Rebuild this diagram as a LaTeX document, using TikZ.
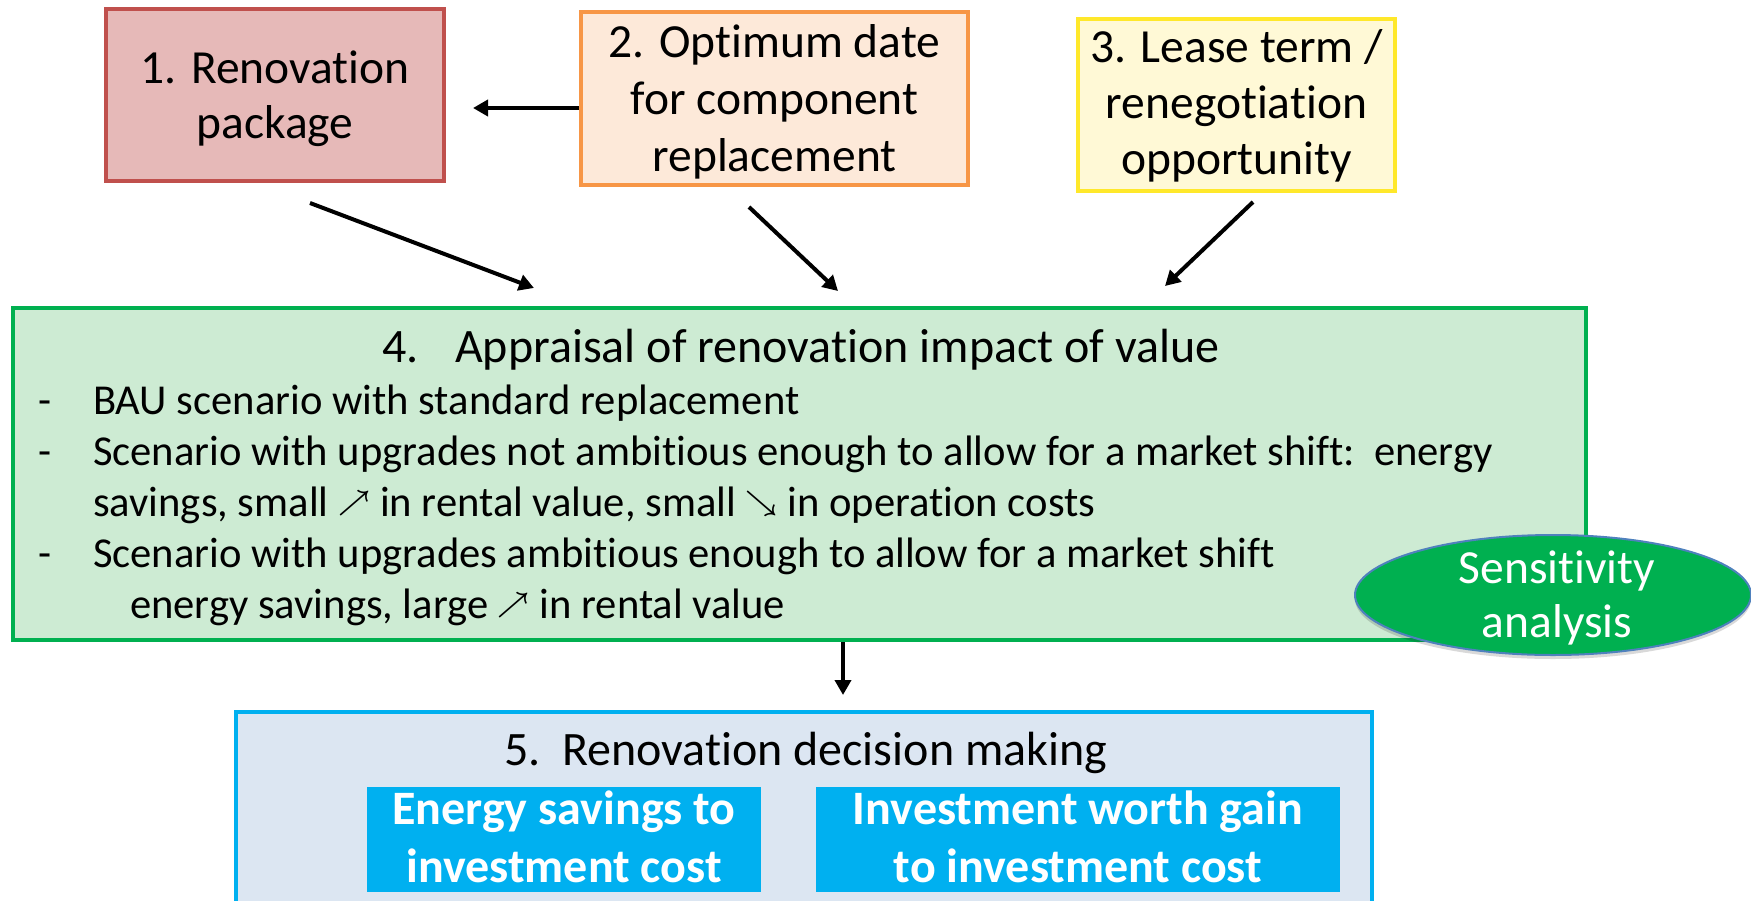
\documentclass[tikz,border=0pt]{standalone}
\usepackage{fontspec}
\usepackage{graphicx}
\setmainfont{Carlito}[Ligatures=NoCommon]
\usetikzlibrary{arrows.meta,shapes.geometric,shadows}

% keep "t" and "i" as separate glyphs (no joined ti form)
\XeTeXinterchartokenstate=1
\newXeTeXintercharclass\tclass
\newXeTeXintercharclass\iclass
\XeTeXcharclass`t=\tclass
\XeTeXcharclass`i=\iclass
\XeTeXinterchartoks\tclass\iclass={\kern0pt}

\definecolor{redline}{HTML}{C0504D}
\definecolor{redfill}{HTML}{E6B9B8}
\definecolor{orgline}{HTML}{F79646}
\definecolor{orgfill}{HTML}{FDE9D9}
\definecolor{yelline}{HTML}{FFE82A}
\definecolor{yelfill}{HTML}{FFF9D6}
\definecolor{grnline}{HTML}{00B050}
\definecolor{grnfill}{HTML}{CDEBD3}
\definecolor{bluline}{HTML}{00B0F0}
\definecolor{blufill}{HTML}{DCE6F2}
\definecolor{ovalline}{HTML}{4F81BD}

% thin open-headed diagonal arrows used inside the list text
\newcommand\uparr{\raisebox{5.5pt}{\scalebox{2.8}{\fontsize{10}{12}\selectfont\boldmath$\nearrow$}}}
\newcommand\downarr{\raisebox{5.5pt}{\scalebox{2.8}{\fontsize{10}{12}\selectfont\boldmath$\searrow$}}}

\tikzset{
  panel/.style={draw, line width=4.5pt, inner sep=0pt},
  conn/.style={line width=4pt, -{Triangle[length=15pt,width=16pt]}},
  bigtxt/.style={anchor=base, inner sep=0pt, font=\fontsize{47.5}{56}\selectfont},
  headtxt/.style={anchor=base west, inner sep=0pt, font=\fontsize{48}{56}\selectfont},
  listtxt/.style={anchor=base west, inner sep=0pt, font=\fontsize{42.6}{51}\selectfont},
  boldtxt/.style={anchor=base, inner sep=0pt, text=white, font=\fontsize{48}{56}\selectfont\bfseries},
}

\begin{document}
\begin{tikzpicture}[x=1pt, y=-1pt]
\useasboundingbox (0,0) rectangle (1751,900);

% top row of input boxes
\node[panel, draw=redline, fill=redfill, minimum width=338pt, minimum height=172pt] (b1) at (275,95) {};
\node[panel, draw=orgline, fill=orgfill, minimum width=387pt, minimum height=173pt] (b2) at (774.5,98.5) {};
\node[panel, draw=yelline, fill=yelfill, minimum width=317pt, minimum height=172pt] (b3) at (1236.5,105) {};

\node[bigtxt] (b1a) at (275,83) {1. Renovation};
\node[bigtxt] (b1b) at (275,138) {package};

\node[bigtxt] (b2a) at (774.5,57) {2. Optimum date};
\node[bigtxt] (b2b) at (774.5,114) {for component};
\node[bigtxt] (b2c) at (774.5,171) {replacement};

\node[bigtxt] (b3a) at (1236.5,62) {3. Lease term /};
\node[bigtxt] (b3b) at (1236.5,118) {renegotiation};
\node[bigtxt] (b3c) at (1236.5,174) {opportunity};

% appraisal box
\node[panel, draw=grnline, fill=grnfill, minimum width=1573pt, minimum height=332pt] (b4) at (799.5,474) {};
\node[headtxt] (b4n) at (382,362) {4.};
\node[headtxt] (b4t) at (455,362) {Appraisal of renovation impact of value};

\node[listtxt] (d1) at (38,414) {-};
\node[listtxt] (l1) at (93,414) {BAU scenario with standard replacement};
\node[listtxt] (d2) at (38,465) {-};
\node[listtxt] (l2) at (93,465) {Scenario with upgrades not ambitious enough to allow for a market shift:\ \ energy};
\node[listtxt] (l3) at (93,516) {savings, small \uparr{} in rental value, small \downarr{} in operation costs};
\node[listtxt] (d4) at (38,567) {-};
\node[listtxt] (l4) at (93,567) {Scenario with upgrades ambitious enough to allow for a market shift};
\node[listtxt] (l5) at (130,618) {energy savings, large \uparr{} in rental value};

% sensitivity oval
\node[ellipse, draw=ovalline, line width=2pt, fill=grnline, minimum width=396pt, minimum height=120pt, inner sep=0pt,
      drop shadow={shadow xshift=0pt, shadow yshift=-4pt, opacity=0.15, fill=black}] (sa) at (1553,595) {};
\node[bigtxt, text=white] (sa1) at (1557,583) {Sensitivity};
\node[bigtxt, text=white] (sa2) at (1557,637) {analysis};

% decision box
\node[panel, draw=bluline, fill=blufill, minimum width=1136pt, minimum height=203pt] (b5) at (804,813.5) {};
\node[headtxt] (b5n) at (504,765) {5.};
\node[headtxt] (b5t) at (562,765) {Renovation decision making};

\node[fill=bluline, minimum width=394pt, minimum height=105pt, inner sep=0pt] (r1) at (564,839.5) {};
\node[fill=bluline, minimum width=524pt, minimum height=105pt, inner sep=0pt] (r2) at (1078,839.5) {};
\node[boldtxt] (r1a) at (564,824) {Energy savings to};
\node[boldtxt] (r1b) at (564,882) {investment cost};
\node[boldtxt] (r2a) at (1078,824) {Investment worth gain};
\node[boldtxt] (r2b) at (1078,882) {to investment cost};

% connector end points
\coordinate (c21s) at (579,108);
\coordinate (c21e) at (473,108);
\coordinate (c14s) at (310,203);
\coordinate (c14e) at (534,288);
\coordinate (c24s) at (749,207);
\coordinate (c24e) at (838,291);
\coordinate (c34s) at (1253,202);
\coordinate (c34e) at (1165,286);
\coordinate (c45s) at (843,642);
\coordinate (c45e) at (843,695);

\draw[conn] (c21s) -- (c21e);
\draw[conn] (c14s) -- (c14e);
\draw[conn] (c24s) -- (c24e);
\draw[conn] (c34s) -- (c34e);
\draw[conn] (c45s) -- (c45e);
\end{tikzpicture}
\end{document}
